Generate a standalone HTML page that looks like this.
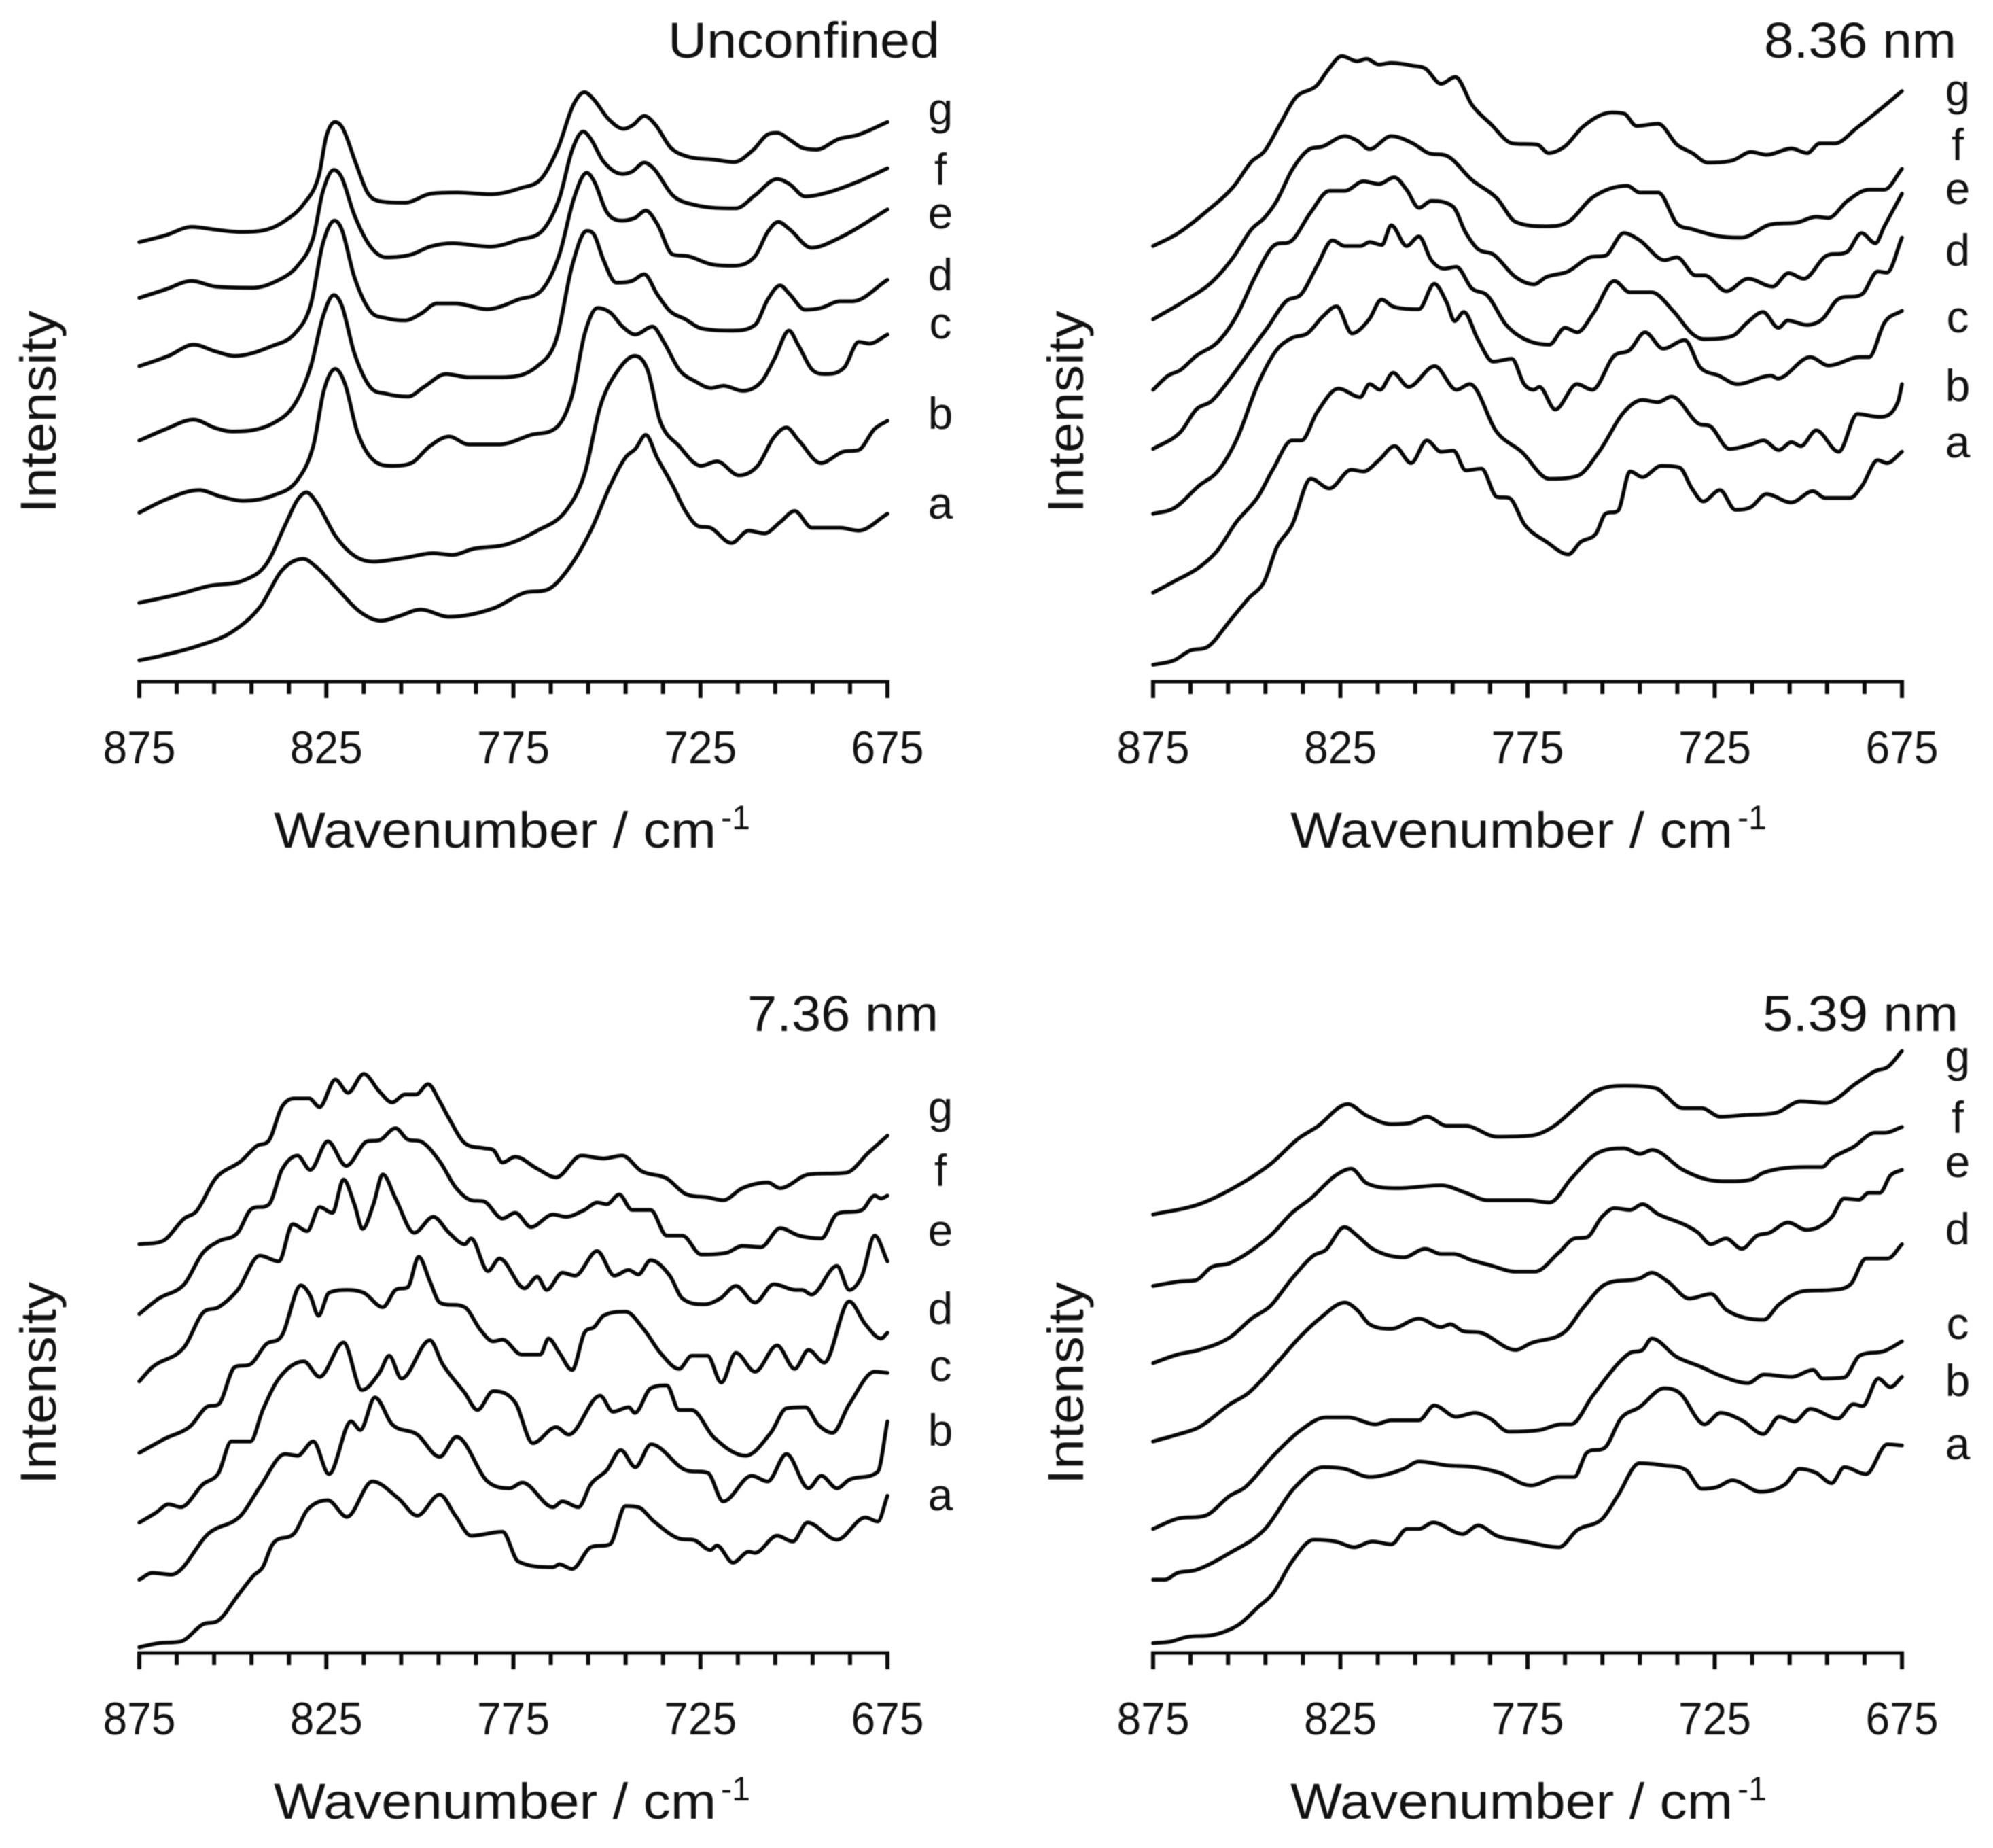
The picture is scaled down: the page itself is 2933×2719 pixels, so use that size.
<!DOCTYPE html>
<html lang="en">
<head>
<meta charset="utf-8">
<title>Raman spectra under confinement</title>
<style>
  html,body{margin:0;padding:0;background:#fff;}
  svg{display:block;filter:blur(0.7px);}
  text{font-family:"Liberation Sans",sans-serif;fill:#111;}
  .series{fill:none;stroke:#050505;stroke-width:5.6;stroke-linejoin:round;stroke-linecap:round;}
  .axis{stroke:#0a0a0a;stroke-width:5;fill:none;}
  .tick{stroke:#0a0a0a;stroke-width:6;fill:none;}
  .t74{font-size:74px;}
  .t68{font-size:68px;}
  .sup{font-size:50px;}
  .lbl{font-size:66px;text-anchor:middle;}
</style>
</head>
<body>
<svg id="figure" width="2933" height="2719" viewBox="0 0 2933 2719" xmlns="http://www.w3.org/2000/svg">
  <rect width="2933" height="2719" fill="#fff"/>

  <g id="panel-unconfined">
    <text class="t74" x="983" y="85" textLength="400" lengthAdjust="spacingAndGlyphs">Unconfined</text>
    <text class="t74" x="82" y="755" textLength="298" lengthAdjust="spacingAndGlyphs" transform="rotate(-90 82 755)">Intensity</text>
    <text class="t74" x="403" y="1247" textLength="651" lengthAdjust="spacingAndGlyphs">Wavenumber / cm</text>
    <text class="sup" x="1061" y="1220" textLength="43" lengthAdjust="spacingAndGlyphs">-1</text>
    <text class="lbl" x="1384" y="183">g</text>
    <text class="lbl" x="1384" y="272">f</text>
    <text class="lbl" x="1384" y="336">e</text>
    <text class="lbl" x="1384" y="427">d</text>
    <text class="lbl" x="1384" y="498">c</text>
    <text class="lbl" x="1384" y="631">b</text>
    <text class="lbl" x="1384" y="763">a</text>
  </g>

  <g id="panel-836">
    <text class="t74" x="2596" y="85" textLength="283" lengthAdjust="spacingAndGlyphs">8.36 nm</text>
    <text class="t74" x="1594" y="755" textLength="298" lengthAdjust="spacingAndGlyphs" transform="rotate(-90 1594 755)">Intensity</text>
    <text class="t74" x="1899" y="1247" textLength="651" lengthAdjust="spacingAndGlyphs">Wavenumber / cm</text>
    <text class="sup" x="2557" y="1220" textLength="43" lengthAdjust="spacingAndGlyphs">-1</text>
    <text class="lbl" x="2881" y="155">g</text>
    <text class="lbl" x="2881" y="236">f</text>
    <text class="lbl" x="2881" y="300">e</text>
    <text class="lbl" x="2881" y="391">d</text>
    <text class="lbl" x="2881" y="489">c</text>
    <text class="lbl" x="2881" y="590">b</text>
    <text class="lbl" x="2881" y="673">a</text>
  </g>

  <g id="panel-736">
    <text class="t74" x="1100" y="1517" textLength="281" lengthAdjust="spacingAndGlyphs">7.36 nm</text>
    <text class="t74" x="82" y="2184" textLength="298" lengthAdjust="spacingAndGlyphs" transform="rotate(-90 82 2184)">Intensity</text>
    <text class="t74" x="403" y="2676" textLength="651" lengthAdjust="spacingAndGlyphs">Wavenumber / cm</text>
    <text class="sup" x="1061" y="2649" textLength="43" lengthAdjust="spacingAndGlyphs">-1</text>
    <text class="lbl" x="1384" y="1652">g</text>
    <text class="lbl" x="1384" y="1745">f</text>
    <text class="lbl" x="1384" y="1833">e</text>
    <text class="lbl" x="1384" y="1948">d</text>
    <text class="lbl" x="1384" y="2032">c</text>
    <text class="lbl" x="1384" y="2127">b</text>
    <text class="lbl" x="1384" y="2222">a</text>
  </g>

  <g id="panel-539">
    <text class="t74" x="2594" y="1517" textLength="288" lengthAdjust="spacingAndGlyphs">5.39 nm</text>
    <text class="t74" x="1594" y="2184" textLength="298" lengthAdjust="spacingAndGlyphs" transform="rotate(-90 1594 2184)">Intensity</text>
    <text class="t74" x="1899" y="2676" textLength="651" lengthAdjust="spacingAndGlyphs">Wavenumber / cm</text>
    <text class="sup" x="2557" y="2649" textLength="43" lengthAdjust="spacingAndGlyphs">-1</text>
    <text class="lbl" x="2881" y="1577">g</text>
    <text class="lbl" x="2881" y="1667">f</text>
    <text class="lbl" x="2881" y="1732">e</text>
    <text class="lbl" x="2881" y="1831">d</text>
    <text class="lbl" x="2881" y="1970">c</text>
    <text class="lbl" x="2881" y="2054">b</text>
    <text class="lbl" x="2881" y="2147">a</text>
  </g>
</svg>

<script>
/* Axis data */
const tickLabels = [875, 825, 775, 725, 675];
const minorTickValues = [865, 855, 845, 835, 815, 805, 795, 785, 765, 755, 745, 735, 715, 705, 695, 685];
const seriesLetters = ['a', 'b', 'c', 'd', 'e', 'f', 'g'];

/* Unconfined: wavenumber (cm-1) and intensity (a.u.) */
const unconfinedG_wn = [875,868,861,854.5,848,841,836,831,827,825,822.7,820.7,817,814,811,804,797,790,781,773,767.5,763,759,756,753.5,749.5,745.5,743,740,737,733,729,721,716,711,707,704.5,701,698,694,688,683,675];
const unconfinedG_int = [780,792,807,802,798,802,818,848,898,968,993,983,918,868,853,850,866,868,865,876,893,948,1023,1046,1033,998,981,988,1004,988,948,933,926,922,943,971,974,961,948,944,963,970,993];
const unconfinedF_wn = [875,868,861,854.6,844.5,838.6,832.7,828.5,826,823,821,817.5,813.3,809,802.3,797.3,791.4,781.2,773.7,766.9,762.7,759.3,756.3,754.3,750.9,745.9,743.3,740,737.4,732.4,726.5,715.5,710.4,704.5,701.2,697,691,682.6,675];
const unconfinedF_int = [681,696,711,701,699,710,738,788,868,908,896,828,773,753,758,772,778,772,784,803,858,943,976,963,923,901,905,921,910,863,846,840,863,892,883,861,868,888,911];
const unconfinedE_wn = [875,867.2,860.5,854.6,849.5,839.4,833.4,829.2,825.9,822.8,820.9,817.5,813.3,809,804,799.7,795.5,790.5,782,773.7,767,762.7,758.8,755.4,753.4,750,745.9,742.5,739.6,736.6,732.4,728.2,722.3,716.4,710.4,707,704.2,701.2,695.3,687.7,675];
const unconfinedE_int = [560,578,598,586,578,596,618,668,778,818,803,718,658,645,641,653,671,671,661,678,698,758,858,903,888,833,818,823,836,813,758,755,741,738,755,798,816,803,770,788,838];
const unconfinedD_wn = [875,868,860.5,854.6,850.3,839.4,833.4,829.2,825.9,823,820.9,817.5,813.3,809,803.1,798.9,793,787,778.7,768.6,763.5,759.3,755.4,753.4,750.9,747.5,743.3,740,736.6,733.2,729,724.8,716.4,710.4,707,703.7,701.2,697,692.8,687.7,684.3,675];
const unconfinedD_int = [428,448,465,450,444,458,493,558,648,686,668,583,523,511,506,523,546,540,540,560,608,738,800,793,748,708,711,723,688,658,643,627,623,633,678,703,688,660,663,675,675,713];
const unconfinedC_wn = [875,868,859,853,847.2,839.4,832.7,828.5,825.6,822.6,820,816.7,812.4,807.4,802.3,797.3,792.2,787,778.7,770.3,763.5,759.3,755.9,752.5,749.1,745.8,742.4,737.8,734.8,730.6,726.4,722.1,718.8,713.7,708.6,705.2,701.3,698.9,695,691.6,686.5,682.7,679.8,675];
const unconfinedC_int = [300,323,340,328,321,330,358,418,518,555,528,443,393,383,388,418,435,421,421,438,451,508,618,663,655,630,616,630,603,553,533,521,525,516,533,573,623,598,553,546,558,603,600,616];
const unconfinedB_wn = [875,864.7,856.3,847,841.1,836,832.7,830.3,827.6,822.5,817.4,812.4,804,796.4,791.4,785.5,777.1,768.6,761,756,751.8,747.5,742.5,739.1,735.8,730.7,724.8,720.6,714.7,709.7,705.4,702,698.7,692.8,686.9,682.7,678.5,675];
const unconfinedB_int = [140,155,170,180,208,278,323,336,318,258,223,213,220,228,225,236,243,268,303,368,488,548,578,553,463,418,383,391,366,383,433,451,428,388,408,411,448,463];
const unconfinedA_wn = [875,869.8,859.6,850.3,842.7,836.8,831.2,827.6,822.5,815.8,810.4,805.7,799.8,792.2,780.4,772,766,760,754.3,749.1,745,742.4,739.6,736.6,732.4,729,725.6,722.3,716.7,712.1,707.9,703.7,699.8,695.2,687.7,682.7,675];
const unconfinedA_int = [38,45,63,88,133,198,218,203,168,123,108,116,128,115,130,158,163,203,268,348,398,413,438,398,348,303,276,273,246,268,263,283,303,273,273,268,298];

/* 8.36 nm */
const nm836G_wn = [875,868.5,861,853.6,848.7,845.3,841.2,837,831.3,828,824.6,820.5,818,814.7,811.4,805.6,802.3,798.1,794.3,789.8,784.9,779,772.4,769.4,765,760,752.5,749.2,745.9,740.1,735.1,731,726.9,720.2,715.3,711.1,704.5,700.3,697,692.9,687,681.3,675];
const nm836G_int = [773,795,833,878,923,941,988,1036,1058,1088,1110,1101,1105,1095,1098,1093,1088,1061,1073,1023,990,955,953,938,950,986,1010,1008,986,990,953,938,921,925,940,935,946,938,955,955,983,1013,1048];
const nm836F_wn = [875,866,859.5,853.6,848.7,845.3,842,837.9,833.7,829.6,823.8,820.5,817.2,811.4,805.6,801.5,796.5,789.8,783.2,778.2,769.9,764.1,757.5,748.4,745,740.1,735.1,731,723.5,717.8,710.3,702.9,697.9,694.6,689.6,683.8,679.7,675];
const nm836F_int = [643,678,708,753,803,823,853,908,943,950,968,960,945,968,955,938,933,890,858,816,808,816,860,880,868,868,813,803,790,788,811,815,825,823,853,873,873,910];
const nm836E_wn = [875,871,867.7,863.5,857.7,852.8,847.8,842.9,837.9,832.9,827.9,823.8,818.8,814.7,810.6,807.3,804,800.7,794.9,791.6,788.3,784.1,778.2,773.3,770,764.2,758.4,754.2,749.3,745,738.4,735.1,730.1,727.7,721.9,716.1,709.5,705.3,701.2,695.4,689.6,685.8,682.1,679.7,675];
const nm836E_int = [518,543,553,578,603,648,718,773,783,833,871,871,888,883,895,873,841,853,843,798,768,758,718,705,718,728,753,756,796,783,748,753,721,721,693,715,701,725,715,755,763,796,778,808,866];
const nm836D_wn = [875,867.7,863.5,859.4,854.4,849.5,844.5,839.5,835.4,831.2,827.1,823.8,819.6,817.2,813.9,811.4,807.3,804,800.7,797.3,794,789.9,785.7,780.7,775.8,769.2,765,761.7,757.5,751.8,747.7,741.9,736.1,731.1,727.9,720.4,716.2,712.1,708,705.5,700.5,696.3,692.2,685.6,681.5,679,675];
const nm836D_int = [413,443,483,498,538,583,628,675,688,738,783,773,773,780,775,810,773,790,748,733,736,698,685,633,608,598,628,620,653,711,691,691,658,618,608,613,638,656,628,641,633,643,678,688,728,726,788];
const nm836C_wn = [875,869.4,862.7,857.8,852.8,847,842.1,837.9,833.8,829.7,826,821.9,817.3,814,810.7,804,799.9,796.6,794.5,792,788.3,784.2,779.2,775.9,773.4,771.8,767.6,761.8,757.7,751.9,747.8,743.6,738.8,733,728.9,723.9,719,709.9,708.2,699.5,694.6,686.3,683.8,679.6,675];
const nm836C_int = [298,308,348,373,428,528,588,610,618,648,666,618,643,678,665,661,706,673,640,656,608,568,573,528,518,523,483,528,518,578,588,620,591,606,558,543,528,543,538,576,561,576,576,638,658];
const nm836B_wn = [875,869.4,862.7,857.8,852.8,847,842.9,837.9,835.4,831.2,825.5,819.7,817.2,814.4,810.9,806.8,799.8,794,790.4,783.2,776.6,769.2,761.7,755.9,749.3,744.3,740.2,736.5,729.4,726.1,721.1,715.3,712,707.9,704.5,702,697.9,691.9,686.9,681.1,676.1,675];
const nm836B_int = [158,178,203,233,283,328,378,428,428,478,520,505,528,518,548,523,560,518,528,443,408,360,365,408,478,500,496,506,458,453,413,421,428,411,425,418,446,408,475,470,496,528];
const nm836A_wn = [875,869.4,865.2,860.2,854.5,849.5,845.3,842,837.9,832.9,827.9,822.1,818.8,814.7,810.5,806.1,801.9,798.1,794.8,791.5,787.3,783.2,779.9,775.7,769.9,764.1,760.8,756.7,754.2,750.9,747.6,744.3,739.3,734.4,731.1,728.1,723.6,719.5,715.3,711.2,704.6,698.8,695.5,688.9,685.6,681.5,679,675];
const nm836A_int = [30,38,55,63,108,148,178,238,278,360,343,376,373,393,418,388,428,408,410,375,378,328,326,278,248,226,248,263,298,303,373,363,383,380,343,320,340,305,310,333,318,338,326,326,348,393,388,408];

/* 7.36 nm */
const nm736G_wn = [875,868.9,863,859.7,854.6,847.9,843.6,840.3,836.9,833.5,829.6,826.8,822.6,819.2,815,810.8,807.4,804,801,797.8,794.7,792.2,788,782.9,780.4,777.9,774.5,768.6,763.6,756.8,750.9,745.9,740.8,734,729,723,718.9,713.8,707,703.7,696.1,686,680.1,675];
const nm736G_int = [715,720,760,773,830,860,887,897,955,970,970,955,1003,980,1013,982,963,977,977,995,965,935,892,883,880,858,868,847,832,870,865,870,843,830,803,797,792,813,823,813,837,840,875,905];
const nm736F_wn = [875,869.8,863,858,853.8,848.7,845.3,840.3,836.9,832.7,829.3,824.6,819.7,814.1,810.8,806.5,803.2,799.8,794.7,790.5,786.3,782.9,777.9,774.5,770.3,764.4,761,756,752.6,750,746.7,743.3,738.3,734,729.8,724.8,718,713.8,708.8,703.7,698.6,692.7,688.5,681.8,678.4,676.7,675];
const nm736F_int = [593,620,645,700,720,735,775,785,845,870,845,895,852,895,897,918,898,895,860,815,792,790,760,770,745,767,763,775,788,785,802,775,775,730,730,697,700,712,710,743,730,725,768,775,800,795,800];
const nm736E_wn = [875,871.5,863,858,853.8,848.7,842.8,837.7,834,830.1,826.8,823.4,820.4,817.5,815.3,812.4,809.9,806.5,801.5,796.4,792.2,788,786.3,781.8,778.7,772,768.6,766.1,761.9,758.5,752.6,748,744.2,741.6,738.3,733.2,729.8,723.9,719.7,715.5,710.4,705.4,699.5,697.8,695.3,688.5,685.2,681.8,678.4,675];
const nm736E_int = [475,500,535,595,605,635,695,685,750,738,780,770,828,785,742,785,837,795,735,763,735,715,725,668,690,638,658,635,665,660,703,660,670,662,687,660,620,610,620,642,613,645,635,635,627,677,635,660,730,685];
const nm736D_wn = [875,868.1,861.3,857.1,853.8,849.5,845.3,841.1,836.9,831.8,829.3,827.1,824.3,819.2,815,809.9,806.5,803.2,800.3,797.3,794.7,788,783.8,780.4,777.9,772.8,767.8,765.6,762.7,759.3,756,753.4,750.9,745,740,735.7,730.7,727.3,723.1,719.4,715.5,710.4,704.5,699.8,696.1,691.9,685.2,680.9,676.7,675];
const nm736D_int = [350,375,397,430,435,500,505,540,555,643,625,590,630,635,630,605,635,640,693,650,613,605,565,545,548,522,522,550,525,495,560,570,590,597,565,525,497,520,520,473,525,492,538,497,530,508,615,575,550,560];
const nm736C_wn = [875,870.6,867.2,863.9,858,853.8,850.4,845.3,842,837.7,831,826.8,820.4,815.5,810.8,808.2,804.9,797.3,793.9,788,784.6,780.4,774.5,769.8,763.6,760.2,751.8,748.4,744.2,742.5,738.3,734,730.7,727.3,721.4,712.9,706.2,702,696.9,693.6,689.7,685.2,678.4,675];
const nm736C_int = [228,245,260,255,295,315,370,370,425,480,510,483,543,460,490,520,480,547,505,455,425,458,438,367,395,382,450,422,430,420,463,468,425,425,377,345,385,428,430,400,385,435,492,490];
const nm736B_wn = [875,871.5,866.4,856.3,847.9,842.8,836,832.7,828.5,824.3,818.4,815.9,812,807.4,800.7,794.7,790.2,781.9,776,772.6,764.4,761.9,757.6,754.3,750,746.3,742.4,738.2,729,723,718.9,711.3,707,702,696.1,692.7,688.5,685.2,677.6,675];
const nm736B_int = [128,140,137,210,240,290,348,345,370,313,405,390,447,400,382,343,378,300,288,298,255,265,255,295,320,355,325,365,320,315,265,310,300,348,288,310,288,303,317,405];
const nm736A_wn = [875,869.8,863.9,858,853.8,848.7,844.5,842,839.4,833.5,830.1,824.6,819.5,812.7,805.7,800.7,794.7,790.5,786.3,777.9,773.7,764.4,762.7,759.3,754.3,749.2,745,741.6,737.4,730.7,726.5,722.3,720.6,716.3,712.1,710.4,704.5,700.3,696.4,688.5,680.9,677.6,675];
const nm736A_int = [10,17,20,50,57,100,135,150,190,210,250,267,238,300,270,240,277,240,205,212,160,150,155,147,185,190,257,255,230,200,197,180,188,158,177,175,205,195,228,198,237,230,275];

/* 5.39 nm */
const nm539G_wn = [875,862.7,854.5,843.7,836.2,831.3,823,818,811.4,806.4,801.9,796.5,791.5,783.2,774.1,768.3,762.5,756.7,749.2,740.9,733.5,728.5,723.5,716.9,708.6,702,695.4,687.1,682.1,678.8,675];
const nm539G_int = [767,785,810,855,900,920,960,940,925,927,938,922,922,903,905,920,952,983,992,988,953,953,938,941,945,965,962,997,1018,1025,1053];
const nm539F_wn = [875,867.7,863.6,859.4,854.5,843.7,837.9,832.9,826.3,822.1,818,809.7,798.1,791.5,785.7,774.9,769.1,763.3,756.7,749.2,745,741.7,733.5,726.9,721.1,715.3,712,700.4,696.3,693.8,688,682.2,679.7,675];
const nm539F_int = [642,650,652,675,682,730,770,795,835,847,822,813,818,805,792,792,788,830,873,883,873,880,845,828,825,828,840,850,850,865,885,910,910,920];
const nm539E_wn = [875,868.5,862.7,854.5,848.7,843.7,837.9,832.2,828.9,823.9,820.5,816.4,808.1,802.3,798.1,794.8,789.9,784.9,778.2,773,766.7,762.5,759.2,755.1,751.8,747.6,744.3,740.2,732.7,729.4,726.1,722,717.8,713.7,710.4,705.4,700.5,693.8,690.5,686.4,683.9,680.9,678.1,675];
const nm539E_int = [507,522,530,552,585,607,655,695,705,745,730,707,692,707,698,698,687,678,667,667,700,725,727,763,778,775,785,768,748,735,715,725,707,730,735,753,740,762,795,793,805,805,835,845];
const nm539D_wn = [875,868.5,862.7,854.5,849.5,842.9,836.2,830.5,823.8,820.5,817.2,811.4,804,798.1,795.6,792.3,787.4,778.2,774.1,765,760,754.2,745.1,741.8,737.6,731.8,726,721.9,711.9,707.8,701.2,693.7,688.7,684.6,678.8,675];
const nm539D_int = [370,382,395,435,455,500,550,585,613,600,575,567,585,570,575,563,560,530,542,562,605,645,655,665,650,620,628,600,583,610,633,635,645,690,690,715];
const nm539C_wn = [875,868.5,861.1,854.5,850.4,842.9,835.5,828.9,823,815.6,811.4,804,799.9,794.1,789.1,785,780,771.7,765.9,763.4,757.6,751,747.6,744.3,741.8,735.2,728.5,723.5,716.1,711.9,704.5,698.7,696.2,690.4,686.3,679.7,675];
const nm539C_int = [217,235,240,275,290,345,390,412,412,400,407,407,433,413,420,410,387,390,400,400,450,505,525,530,550,518,500,485,472,487,483,495,480,482,520,528,545];
const nm539B_wn = [875,871.9,868.5,863.6,854.5,845.4,837.1,829.6,823.8,817.2,808.1,804,796.5,789.1,782.4,774.1,766.7,762.5,759.2,754.2,750.1,745.1,738.5,734.4,727.7,723.5,717.8,712,707.8,703.7,699.5,692.1,688,685.5,681.3,678.1,675];
const nm539B_int = [128,128,140,145,175,215,290,325,322,308,322,335,328,325,315,293,308,308,350,360,410,430,463,455,400,420,407,383,413,405,427,410,435,432,480,465,483];
const nm539A_wn = [875,870.2,866,858.6,852,847,842.9,837.9,832.1,826.3,821.3,816.4,811.4,807.2,804,800.2,792.3,788.2,783.2,775.7,766.6,761.7,755,750.9,745.1,738.5,732.7,728.5,724.4,720.3,712.8,706.2,702.4,697.9,693.8,690.4,684.6,678.9,675];
const nm539A_int = [17,20,28,32,50,80,105,160,198,195,185,195,190,217,217,228,208,223,205,195,185,215,235,275,332,328,320,287,290,302,282,295,322,315,297,325,313,365,363];

const SVG_NS = 'http://www.w3.org/2000/svg';

const panels = [
  { id: 'panel-unconfined', name: 'unconfined', left: 205, right: 1306, axisY: 1003, unit: 1 / 1.206,
    wn: [unconfinedA_wn, unconfinedB_wn, unconfinedC_wn, unconfinedD_wn, unconfinedE_wn, unconfinedF_wn, unconfinedG_wn],
    ints: [unconfinedA_int, unconfinedB_int, unconfinedC_int, unconfinedD_int, unconfinedE_int, unconfinedF_int, unconfinedG_int] },
  { id: 'panel-836', name: '8-36-nm', left: 1697, right: 2799, axisY: 1003, unit: 1 / 1.206,
    wn: [nm836A_wn, nm836B_wn, nm836C_wn, nm836D_wn, nm836E_wn, nm836F_wn, nm836G_wn],
    ints: [nm836A_int, nm836B_int, nm836C_int, nm836D_int, nm836E_int, nm836F_int, nm836G_int] },
  { id: 'panel-736', name: '7-36-nm', left: 205, right: 1306, axisY: 2432, unit: 1 / 1.189,
    wn: [nm736A_wn, nm736B_wn, nm736C_wn, nm736D_wn, nm736E_wn, nm736F_wn, nm736G_wn],
    ints: [nm736A_int, nm736B_int, nm736C_int, nm736D_int, nm736E_int, nm736F_int, nm736G_int] },
  { id: 'panel-539', name: '5-39-nm', left: 1697, right: 2799, axisY: 2432, unit: 1 / 1.189,
    wn: [nm539A_wn, nm539B_wn, nm539C_wn, nm539D_wn, nm539E_wn, nm539F_wn, nm539G_wn],
    ints: [nm539A_int, nm539B_int, nm539C_int, nm539D_int, nm539E_int, nm539F_int, nm539G_int] }
];

function xScale(panel, wavenumber) {
  return panel.left + (875 - wavenumber) * (panel.right - panel.left) / 200;
}
function yScale(panel, intensity) {
  return panel.axisY - intensity * panel.unit;
}

/* Smooth cubic path through the data points, flat at local extremes */
function smoothPath(xs, ys) {
  const n = xs.length;
  const slopes = [];
  for (let i = 0; i < n - 1; i++) {
    slopes.push((ys[i + 1] - ys[i]) / Math.max(xs[i + 1] - xs[i], 0.01));
  }
  const tangents = [slopes[0]];
  for (let i = 1; i < n - 1; i++) {
    const a = slopes[i - 1], b = slopes[i];
    if (a * b <= 0) {
      tangents.push(0);
    } else {
      const mean = (a + b) / 2;
      const limit = 3 * Math.min(Math.abs(a), Math.abs(b));
      tangents.push(Math.sign(mean) * Math.min(Math.abs(mean), limit));
    }
  }
  tangents.push(slopes[n - 2]);
  let d = 'M' + xs[0].toFixed(1) + ' ' + ys[0].toFixed(1);
  for (let i = 0; i < n - 1; i++) {
    const h = (xs[i + 1] - xs[i]) / 3;
    d += 'C' + (xs[i] + h).toFixed(1) + ' ' + (ys[i] + tangents[i] * h).toFixed(1) + ' ' +
         (xs[i + 1] - h).toFixed(1) + ' ' + (ys[i + 1] - tangents[i + 1] * h).toFixed(1) + ' ' +
         xs[i + 1].toFixed(1) + ' ' + ys[i + 1].toFixed(1);
  }
  return d;
}

function drawAxis(panel, parent) {
  const line = document.createElementNS(SVG_NS, 'line');
  
  
  line.setAttribute('class', 'axis');
  line.setAttribute('x1', panel.left - 3);
  line.setAttribute('x2', panel.right + 3);
  line.setAttribute('y1', panel.axisY);
  line.setAttribute('y2', panel.axisY);
  parent.appendChild(line);

  minorTickValues.forEach(function (value) {
    const tick = document.createElementNS(SVG_NS, 'line');
    
    
    tick.setAttribute('class', 'tick');
    tick.setAttribute('x1', xScale(panel, value));
    tick.setAttribute('x2', xScale(panel, value));
    tick.setAttribute('y1', panel.axisY);
    tick.setAttribute('y2', panel.axisY + 18);
    parent.appendChild(tick);
  });

  tickLabels.forEach(function (value) {
    const tick = document.createElementNS(SVG_NS, 'line');
    
    
    tick.setAttribute('class', 'tick');
    tick.setAttribute('x1', xScale(panel, value));
    tick.setAttribute('x2', xScale(panel, value));
    tick.setAttribute('y1', panel.axisY);
    tick.setAttribute('y2', panel.axisY + 24);
    parent.appendChild(tick);

    const label = document.createElementNS(SVG_NS, 'text');
    
    
    label.setAttribute('class', 't68');
    label.setAttribute('x', xScale(panel, value) - 53.5);
    label.setAttribute('y', panel.axisY + 120);
    label.setAttribute('textLength', '107');
    label.setAttribute('lengthAdjust', 'spacingAndGlyphs');
    label.textContent = String(value);
    parent.appendChild(label);
  });
}

function drawSeries(panel, parent) {
  seriesLetters.forEach(function (letter, index) {
    const wavenumbers = panel.wn[index];
    const intensities = panel.ints[index];
    const xs = wavenumbers.map(function (w) { return xScale(panel, w); });
    const ys = intensities.map(function (v) { return yScale(panel, v); });
    const path = document.createElementNS(SVG_NS, 'path');
    
    
    path.setAttribute('class', 'series');
    path.setAttribute('d', smoothPath(xs, ys));
    parent.appendChild(path);
  });
}

panels.forEach(function (panel) {
  const group = document.getElementById(panel.id);
  drawAxis(panel, group);
  drawSeries(panel, group);
});
</script>
</body>
</html>
